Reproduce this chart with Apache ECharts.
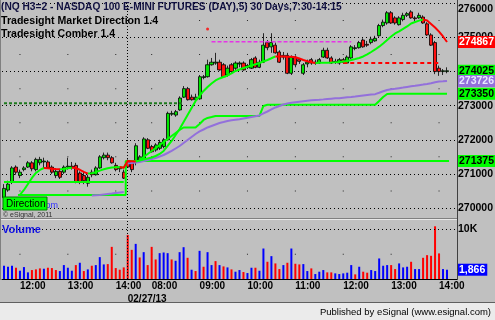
<!DOCTYPE html>
<html><head><meta charset="utf-8">
<script src="https://cdn.jsdelivr.net/npm/echarts@6/dist/echarts.min.js"></script>
<style>html,body{margin:0;padding:0;background:#c0c0c0}#c{width:495px;height:320px}</style>
</head><body><div id="c"></div><script>
// ---------- DATA ----------
const day1Times = ['11:40','11:45','11:50','11:55','12:00','12:05','12:10','12:15','12:20','12:25','12:30','12:35','12:40','12:45','12:50','12:55','13:00','13:05','13:10','13:15','13:20','13:25','13:30','13:35','13:40','13:45','13:50','13:55','14:00','14:05','14:10'];
const day2Times = ['07:30','07:35','07:40','07:45','07:50','07:55','08:00','08:05','08:10','08:15','08:20','08:25','08:30','08:35','08:40','08:45','08:50','08:55','09:00','09:05','09:10','09:15','09:20','09:25','09:30','09:35','09:40','09:45','09:50','09:55','10:00','10:05','10:10','10:15','10:20','10:25','10:30','10:35','10:40','10:45','10:50','10:55','11:00','11:05','11:10','11:15','11:20','11:25','11:30','11:35','11:40','11:45','11:50','11:55','12:00','12:05','12:10','12:15','12:20','12:25','12:30','12:35','12:40','12:45','12:50','12:55','13:00','13:05','13:10','13:15','13:20','13:25','13:30','13:35','13:40','13:45','13:50','13:55','14:00','14:05','14:10'];
const padTimes = ['', ''];
const dateLabel = '02/27/13';

const open = [270300,270525,270775,271200,270950,271125,271200,271325,271125,271325,271350,271350,271200,270950,271075,271050,271200,271225,271250,271025,270950,270725,271050,270975,271175,271475,271550,271475,271250,271175,271050,271375,271375,271350,271400,271400,272000,271800,271700,271750,271800,272000,272750,272725,272875,273250,273500,273250,273175,273200,273825,273850,274200,274250,274275,274200,273900,274200,274100,274225,274250,274175,274100,274400,274125,274275,274850,274725,274775,274575,274475,274475,273950,274425,274350,273950,274225,274350,274275,274250,274425,274625,274400,274300,274250,274350,274250,274400,274675,274700,274925,274800,274850,274900,275050,275350,275425,275725,275575,275375,275525,275650,275750,275575,275575,275600,275400,275075,274850,274100,274000,274000];
const close = [270575,270700,271175,271050,271050,271175,271325,271150,271425,271425,271375,271175,271050,271075,270900,271200,271225,271200,270775,270775,270800,270900,270975,271175,271500,271550,271475,271325,271125,271150,270875,271200,271125,271825,271500,272025,271750,271650,271850,271925,272000,272775,272775,272825,273225,273500,273175,273175,273250,273850,273850,274200,274275,274275,274050,273850,274100,274000,274250,274250,274050,274125,274350,274125,274275,274775,274700,274850,274550,274275,274425,273950,274425,274200,274300,274200,274275,274250,274250,274350,274625,274400,274250,274275,274350,274275,274425,274725,274700,274850,274725,274775,274950,274975,275350,275450,275725,275425,275425,275575,275650,275700,275575,275550,275650,275425,275075,274775,274000,274000,274025,274025];
const high = [270700,270800,271225,271250,271125,271225,271375,271375,271475,271500,271475,271400,271250,271150,271150,271250,271475,271350,271325,271075,271050,270975,271125,271225,271550,271625,271625,271525,271325,271225,271125,271425,271400,271900,271550,272075,272050,271850,271900,272000,272050,272825,272850,272875,273275,273575,273550,273325,273350,273900,273900,274350,274400,274550,274350,274250,274175,274250,274300,274300,274300,274225,274400,274450,274350,275125,274925,275125,274850,274625,274575,274550,274475,274475,274400,274250,274350,274400,274350,274400,274700,274700,274450,274375,274400,274400,274475,274775,274775,274900,274975,274900,275025,275050,275400,275525,275775,275775,275625,275625,275725,275750,275800,275625,275725,275650,275450,275125,274900,274175,274075,274125];
const low = [270125,270475,270700,270975,270875,271075,271175,271075,271075,271250,271175,271150,271000,270875,270850,271000,271125,271125,270725,270700,270700,270625,270900,270950,271150,271425,271400,271300,271075,271050,270850,271175,271050,271250,271375,271375,271725,271625,271650,271700,271750,271975,272700,272675,272850,273225,273150,273150,273100,273175,273775,273825,274175,274200,274025,273825,273850,273950,274050,274125,274025,274075,274075,274100,274100,274250,274625,274550,274525,274250,274350,273925,273900,274125,274225,273900,274125,274200,274200,274225,274400,274375,274225,274225,274200,274225,274225,274375,274625,274675,274700,274725,274800,274875,275025,275300,275375,275400,275375,275350,275475,275600,275550,275475,275550,275400,275050,274750,273925,273875,273900,273950];

const volume = [2667,2467,2667,2267,1667,2400,1333,1800,1933,2133,2067,2267,2200,1800,1600,2800,2267,1667,2800,3267,1600,1933,2667,2800,4400,2933,3000,6467,2200,1867,2333,8867,5867,7067,4333,5400,2800,6467,3933,5200,5333,5200,3933,3667,5400,6400,4267,1867,1600,5667,2467,5400,2800,3600,2800,2533,2333,1933,1467,1800,1400,1200,2267,2267,1667,6133,3467,4600,3133,2000,2800,3267,6133,3067,2933,3000,1600,2133,1000,1467,1800,1333,1333,1133,1000,1133,1267,2800,933,2467,1467,1267,1800,1600,4133,2667,2800,2800,2000,3133,2333,2467,3467,2000,2000,4267,4800,4667,10600,5133,2000,1866];
const volumeUp = [1,1,1,0,1,1,1,0,0,0,1,0,0,0,1,1,1,1,0,1,0,1,0,1,1,1,0,0,0,0,0,0,0,1,0,1,0,0,0,1,1,1,0,1,1,1,0,1,0,1,0,1,1,0,1,0,1,0,1,1,0,1,1,0,1,1,0,1,0,0,1,0,1,0,0,1,1,0,1,1,1,0,0,1,1,1,1,1,0,1,0,0,1,1,1,1,1,0,0,1,1,1,0,1,1,0,0,0,0,0,1,1];

// Tradesight Market Direction line (starts at bar 4)
const directionStart = 4;
const direction = [270381,270528,270704,270880,271027,271115,271173,271165,271150,271140,271135,271145,271165,271180,271170,271120,271060,271010,271020,271050,271095,271135,271165,271185,271195,271200,271180,
 271379,271370,271361,271393,271423,271452,271481,271525,271584,271672,271818,271965,272141,272317,272522,272728,272933,273138,273285,273432,273549,273652,273740,273798,273842,273886,273945,274018,274062,274106,274141,274180,274215,274253,274297,274341,274391,274445,274442,274440,274437,274432,274420,274385,274341,274303,274273,274253,274256,274259,274262,274267,274273,274282,274297,274312,274341,274370,274400,274443,274502,274575,274649,274731,274825,274927,275030,275118,275177,275250,275323,275411,275455,275494,275529,275499,275397,275294,275171,275030,274867];
// slow average (purple), day 1 from bar 22, day 2 from bar 31
const avgDay1Start = 22;
const avgDay1 = [270367,270375,270381,270396,270411,270425,270440,270455,270469];
const avgDay2Start = 31;
const avgDay2 = [271305,271320,271335,271349,271379,271408,271437,271467,271510,271554,271613,271672,271745,271818,271906,271994,272082,272170,272244,272302,272361,272405,272449,272493,272522,272552,272572,272590,272602,272625,272646,272669,272690,272713,272772,272830,272889,272948,272992,273036,273065,273086,273103,273118,273132,273144,273156,273168,273176,273185,273197,273206,273215,273220,273232,273244,273256,273270,273285,273300,273314,273326,273338,273379,273423,273461,273479,273496,273514,273531,273549,273567,273584,273602,273619,273637,273660,273690,273710,273716,273726];
// trailing stop (green, stepped) day 2 from bar 34
const stopStart = 34;
const stopLine = [271408,271496,271584,271672,271760,271848,271936,272024,272112,272200,272288,272361,272361,272361,272361,272464,272581,272640,272669,
 272700,272700,272700,272700,272700,272700,272700,272700,272700,272700,272700,272700,
 272992,
 273025,273025,273025,273025,273025,273025,273025,273025,273025,273025,273025,273025,273025,273025,273025,273025,273025,273025,273025,273025,273025,273025,273025,273025,273025,273025,273025,273025,
 273138,273256,273344,
 273350,273350,273350,273350,273350,273350,273350,273350,273350,273350,273350,273350,273350,273350,273350];
// flat levels: [fromBar, toBar, price]
const levelLow = [[4,30,270381],[31,111,271375]];
const levelMid = [[0,30,270763]];
const levelGreenDash = [[0,45,273075]];
const levelMagentaDash = [[52,87,274875]];
const levelRedDash = [[85,109,274250]];
const redDot = [[51,275250]];
// counts [bar, price, text]
const countMagenta = [[0,271261,'2'],[1,271393,'3'],[2,271804,'4'],[16,271994,'5'],[24,272238,'6'],[33,272464,'7'],[35,272602,'8'],[41,273382,'9'],[44,273804,'10'],[45,274273,'11'],[49,274508,'12'],[51,274860,'13']];
const countTeal = [[0,270918,'2'],[1,271035,'3'],[2,271458,'4'],[3,271458,'5'],[4,271423,'6'],[5,271651,'7'],[6,271651,'8'],[7,271651,'9'],[86,274634,'1'],[87,274977,'2'],[88,274977,'3'],[89,275153,'4'],[90,275153,'5'],[91,275054,'6'],[92,275241,'7'],[93,275241,'8'],[94,275661,'9'],[105,275095,'1'],[106,274751,'2'],[107,274634,'3'],[108,273851,'4'],[109,273851,'5'],[110,273637,'6']];
const priceTicks = [270000,271000,272000,273000,274000,275000,276000];
const priceHalfTicks = [270500,271500,272500,273500,274500,275500];
const volumeTicks = [10000];
const volumeHalfTicks = [5000];

// ---------- BUILD ----------
const categories = day1Times.concat(day2Times, padTimes);
const N = categories.length;
const dayStart = day1Times.length;
const empty = () => new Array(N).fill('-');
function fromStart(start, vals){ const a = empty(); vals.forEach((v,i)=>{a[start+i]=v;}); return a; }
function fromLevels(levels){ const a = empty(); levels.forEach(([f,t,v])=>{ for(let i=f;i<=t;i++) a[i]=v; }); return a; }
const candles = categories.map((c,i)=> i<open.length ? [open[i],close[i],low[i],high[i]] : '-');
const dir = fromStart(directionStart, direction);
const dirUp = empty(), dirDown = empty();
for (let i=1;i<N;i++){ const a=dir[i-1], b=dir[i]; if(a==='-'||b==='-') continue; const t = b<a ? dirDown : dirUp; t[i-1]=a; t[i]=b; }
const hourIdx = categories.map((c,i)=> c.slice(3)==='00' ? i : -1).filter(i=>i>=0);
const dotsPrice = []; hourIdx.forEach(i=>priceHalfTicks.forEach(v=>dotsPrice.push([i,v])));
const dotsVol = []; hourIdx.forEach(i=>volumeHalfTicks.forEach(v=>dotsVol.push([i,v])));
const FONT = 'Liberation Sans, Arial, sans-serif';

function boxLabel(bg, fg, fmt){
  return { show:true, position:'end', distance:0, formatter: fmt || (p=>String(p.value)), backgroundColor:bg, color:fg,
    fontFamily:FONT, fontSize:10.5, fontWeight:'bold', padding:[1,2,0,2], lineHeight:11 };
}
const hidden = {color:'rgba(0,0,0,0)', width:0};
const dotted = {color:'#000', width:1, type:[1,3]};

const lineBase = {type:'line', xAxisIndex:0, yAxisIndex:0, symbol:'none', showSymbol:false, connectNulls:false, animation:false, silent:true};

const option = {
  backgroundColor:'#c0c0c0',
  animation:false,
  grid:[
    {left:2, top:1, width:455, height:218, outerBoundsMode:'none', containLabel:false},
    {left:2, top:220, width:455, height:59, outerBoundsMode:'none', containLabel:false}
  ],
  xAxis:[
    {type:'category', gridIndex:0, data:categories, boundaryGap:true, axisLine:{show:false}, axisTick:{show:false}, axisLabel:{show:false}, splitLine:{show:false}},
    {type:'category', gridIndex:1, data:categories, boundaryGap:true, axisLine:{show:true, lineStyle:{color:'#000', width:1}}, axisTick:{show:false},
      axisLabel:{interval:(i,v)=> v.slice(3)==='00', align:'left', margin:2, color:'#000', fontFamily:FONT, fontSize:10, fontWeight:'bold'}, splitLine:{show:false}},
    {type:'category', gridIndex:1, data:categories, position:'bottom', offset:13, boundaryGap:true, axisLine:{show:false}, axisTick:{show:false},
      axisLabel:{interval:(i)=> i===dayStart, formatter:()=>dateLabel, align:'left', margin:2, color:'#000', fontFamily:FONT, fontSize:10, fontWeight:'bold'}, splitLine:{show:false}}
  ],
  yAxis:[
    {type:'value', gridIndex:0, position:'right', min:269677, max:276070, axisLine:{show:false}, axisTick:{show:false}, splitLine:{show:false},
      axisLabel:{customValues:priceTicks, margin:1, color:'#000', fontFamily:FONT, fontSize:10.5, fontWeight:'bold',
        formatter:v=> v===priceTicks[priceTicks.length-1] ? '{t|'+v+'}' : String(v),
        rich:{t:{padding:[12,0,0,0], color:'#000', fontFamily:FONT, fontSize:10.5, fontWeight:'bold'}}}},
    {type:'value', gridIndex:1, position:'right', min:0, max:11870, axisLine:{show:false}, axisTick:{show:false}, splitLine:{show:false},
      axisLabel:{customValues:volumeTicks, margin:1, color:'#000', fontFamily:FONT, fontSize:10.5, fontWeight:'bold', formatter:v=> (v/1000)+'K'}}
  ],
  series:[
    {type:'scatter', xAxisIndex:0, yAxisIndex:0, data:dotsPrice, symbol:'rect', symbolSize:1, itemStyle:{color:'#000'}, silent:true, z:1},
    {type:'scatter', xAxisIndex:1, yAxisIndex:1, data:dotsVol, symbol:'rect', symbolSize:1, itemStyle:{color:'#000'}, silent:true, z:1},
    {type:'candlestick', name:'NQ', xAxisIndex:0, yAxisIndex:0, data:candles, barWidth:3.6, z:3, silent:true,
      itemStyle:{color:'#00e600', color0:'#ff1010', borderColor:'#000', borderColor0:'#000', borderWidth:0.8},
      markLine:{symbol:'none', silent:true, animation:false, z:1,
        data: priceTicks.map(v=>({yAxis:v, lineStyle:dotted, label:{show:false}}))
          .concat([{xAxis:dayStart, lineStyle:{color:'#000', width:1, type:[1,2]}, label:{show:false}}])
          .concat([{yAxis:close[close.length-1], lineStyle:hidden, label:boxLabel('#00ff00','#000')}])}},
    Object.assign({}, lineBase, {name:'level-dash-green', data:fromLevels(levelGreenDash), lineStyle:{color:'#1e7a1e', width:2, type:[3,2]}, z:4}),
    Object.assign({}, lineBase, {name:'level-mid', data:fromLevels(levelMid), lineStyle:{color:'#00ff00', width:2}, z:4}),
    Object.assign({}, lineBase, {name:'level-low', data:fromLevels(levelLow), step:'middle', lineStyle:{color:'#00ff00', width:2}, z:4,
      markLine:{symbol:'none', silent:true, data:[{yAxis:levelLow[levelLow.length-1][2], lineStyle:hidden, label:boxLabel('#00ff00','#000')}]}}),
    Object.assign({}, lineBase, {name:'stop', data:fromStart(stopStart, stopLine), lineStyle:{color:'#00ff00', width:2}, z:4,
      markLine:{symbol:'none', silent:true, data:[{yAxis:stopLine[stopLine.length-1], lineStyle:hidden, label:boxLabel('#00ff00','#000')}]}}),
    Object.assign({}, lineBase, {name:'avg1', data:fromStart(avgDay1Start, avgDay1), lineStyle:{color:'#9370db', width:2}, z:4}),
    Object.assign({}, lineBase, {name:'avg2', data:fromStart(avgDay2Start, avgDay2), lineStyle:{color:'#9370db', width:2}, z:4,
      markLine:{symbol:'none', silent:true, data:[{yAxis:avgDay2[avgDay2.length-1], lineStyle:hidden, label:boxLabel('#9370db','#e8e8ff')}]}}),
    Object.assign({}, lineBase, {name:'level-magenta', data:fromLevels(levelMagentaDash), lineStyle:{color:'#e633e6', width:1.5, type:[4,2]}, z:4}),
    Object.assign({}, lineBase, {name:'level-red', data:fromLevels(levelRedDash), lineStyle:{color:'#ff0000', width:2, type:[4,3]}, z:4}),
    Object.assign({}, lineBase, {name:'dir-up', data:dirUp, lineStyle:{color:'#00ff00', width:2}, z:5}),
    Object.assign({}, lineBase, {name:'dir-down', data:dirDown, lineStyle:{color:'#ff0000', width:2}, z:6,
      markLine:{symbol:'none', silent:true, data:[{yAxis:direction[direction.length-1], lineStyle:hidden, label:boxLabel('#ff0000','#fff')}]}}),
    {type:'scatter', xAxisIndex:0, yAxisIndex:0, data:redDot, symbolSize:3, itemStyle:{color:'#ff0000'}, silent:true, z:7},
    {type:'scatter', xAxisIndex:0, yAxisIndex:0, data:countMagenta, symbolSize:1, itemStyle:{opacity:0}, silent:true, z:8,
      label:{show:true, position:'inside', formatter:p=>p.data[2], color:'#ee22ee', fontFamily:FONT, fontSize:9, fontWeight:'bold'}},
    {type:'scatter', xAxisIndex:0, yAxisIndex:0, data:countTeal, symbolSize:1, itemStyle:{opacity:0}, silent:true, z:8,
      label:{show:true, position:'inside', formatter:p=>p.data[2], color:'#2f8c80', fontFamily:FONT, fontSize:9, fontWeight:'bold'}},
    {type:'bar', name:'Volume', xAxisIndex:1, yAxisIndex:1, barWidth:2, silent:true, z:3,
      data: volume.map((v,i)=>({value:v, itemStyle:{color: volumeUp[i] ? '#0000ff' : '#ff0000'}})),
      markLine:{symbol:'none', silent:true, data:[
        {yAxis:volumeTicks[0], lineStyle:dotted, label:{show:false}},
        {xAxis:dayStart, lineStyle:{color:'#000', width:1, type:[1,2]}, label:{show:false}},
        {yAxis:volume[volume.length-1], lineStyle:hidden, label:boxLabel('#0000ff','#fff', p=>p.value.toLocaleString('en-US'))}]}}
  ],
  graphic:[
    {type:'text', x:1, y:7, z:100, style:{text:'(NQ H3=2 - NASDAQ 100 E-MINI FUTURES (DAY),5) 30 Days,7:30-14:15', font:'bold 10.2px '+FONT, fill:'#101040', verticalAlign:'middle'}},
    {type:'text', x:1, y:21, z:100, style:{text:'Tradesight Market Direction 1.4', font:'bold 10.6px '+FONT, fill:'#000', verticalAlign:'middle'}},
    {type:'text', x:1, y:34, z:100, style:{text:'Tradesight Comber 1.4', font:'bold 10.6px '+FONT, fill:'#000', verticalAlign:'middle'}},
    {type:'text', x:58, y:206, z:90, style:{text:'.com', font:'9px '+FONT, fill:'#3030ff', align:'right', verticalAlign:'middle'}},
    {type:'rect', shape:{x:3, y:197, width:44, height:13}, z:95, style:{fill:'#00ff00', stroke:'#008000', lineWidth:1}},
    {type:'text', x:6, y:204, z:96, style:{text:'Direction', font:'10px '+FONT, fill:'#000', verticalAlign:'middle'}},
    {type:'text', x:3, y:215, z:96, style:{text:'\u00a9 eSignal, 2011', font:'7px '+FONT, fill:'#303030', verticalAlign:'middle'}},
    {type:'text', x:2, y:230, z:100, style:{text:'Volume', font:'bold 11px '+FONT, fill:'#1010e0', verticalAlign:'middle'}},
    {type:'line', shape:{x1:0, y1:219.5, x2:457, y2:219.5}, z:50, style:{stroke:'#e8e8e8', lineWidth:1}},
    {type:'line', shape:{x1:0, y1:218.5, x2:457, y2:218.5}, z:50, style:{stroke:'#808080', lineWidth:1}},
    {type:'line', shape:{x1:457.5, y1:0, x2:457.5, y2:280}, z:50, style:{stroke:'#404040', lineWidth:1}},
    {type:'line', shape:{x1:0.5, y1:0, x2:0.5, y2:280}, z:50, style:{stroke:'#808080', lineWidth:1}},
    {type:'rect', shape:{x:0, y:303, width:495, height:17}, z:50, style:{fill:'#ebebeb'}},
    {type:'line', shape:{x1:0, y1:302.5, x2:495, y2:302.5}, z:51, style:{stroke:'#606060', lineWidth:1}},
    {type:'text', x:491, y:312, z:52, style:{text:'Published by eSignal (www.esignal.com)', font:'9.5px '+FONT, fill:'#000', align:'right', verticalAlign:'middle'}}
  ]
};
const chart = echarts.init(document.getElementById('c'), null, {renderer:'canvas', width:495, height:320});
chart.setOption(option);
</script></body></html>
